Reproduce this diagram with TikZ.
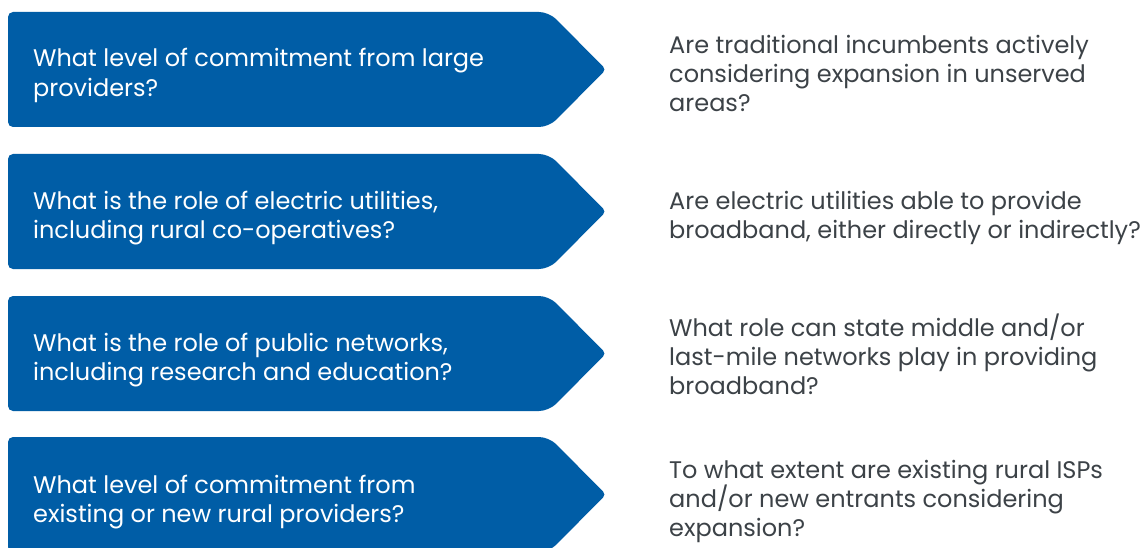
\documentclass[tikz,border=0pt]{standalone}
\usepackage{fontspec}
\setmainfont{Poppins}
\definecolor{boxblue}{HTML}{005DA6}
\definecolor{txtgray}{HTML}{3C4247}
\begin{document}
\begin{tikzpicture}[x=1pt,y=-1pt,
  qtext/.style={anchor=base west,align=left,text=white,inner sep=0pt,
    font=\fontsize{24}{29.5}\selectfont},
  atext/.style={anchor=base west,align=left,text=txtgray,inner sep=0pt,
    font=\fontsize{24}{29.2}\selectfont},
  arrowbox/.style={fill=boxblue,draw=none}]
\useasboundingbox[fill=white] (0,0) rectangle (1148,548);
\foreach \t in {12,154,296,437}{
  \fill[boxblue,rounded corners=5pt]
    (8,\t) [rounded corners=10pt] -- (549,\t) [rounded corners=4pt]
    -- (606,\t+57.5) [rounded corners=10pt] -- (549,\t+115)
    [rounded corners=5pt] -- (8,\t+115) -- cycle;
}
\node[qtext] (q1) at (33,96.5) {What level of commitment from large\\providers?};
\node[qtext] (q2) at (33,238.5) {What is the role of electric utilities,\\including rural co-operatives?};
\node[qtext] (q3) at (33,380.5) {What is the role of public networks,\\including research and education?};
\node[qtext] (q4) at (33,522.5) {What level of commitment from\\existing or new rural providers?};
\node[atext] (a1) at (669,111.5) {Are traditional incumbents actively\\considering expansion in unserved\\areas?};
\node[atext] (a2) at (669,238.5) {Are electric utilities able to provide\\broadband, either directly or indirectly?};
\node[atext] (a3) at (669,394.5) {What role can state middle and/or\\last-mile networks play in providing\\broadband?};
\node[atext] (a4) at (669,536.5) {To what extent are existing rural ISPs\\and/or new entrants considering\\expansion?};
\end{tikzpicture}
\end{document}
